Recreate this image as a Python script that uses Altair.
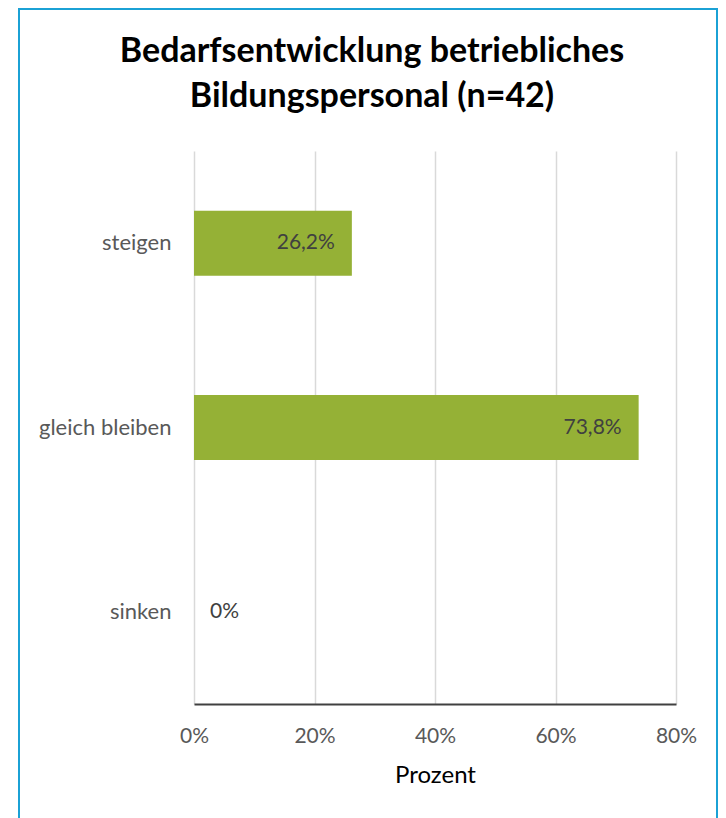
import altair as alt
import pandas as pd

categories = ["steigen", "gleich bleiben", "sinken"]
values = [26.2, 73.8, 0.0]
labels = ["26,2%", "73,8%", "0%"]
title_lines = ["Bedarfsentwicklung betriebliches", "Bildungspersonal (n=42)"]
x_ticks = [0, 20, 40, 60, 80]
x_title = "Prozent"

df = pd.DataFrame({"cat": categories, "val": values, "lab": labels})
FONT = "Lato"

y_enc = alt.Y(
    "cat:N", sort=categories,
    scale=alt.Scale(paddingInner=0.647, paddingOuter=0.3235),
    axis=alt.Axis(title=None, domain=False, ticks=False, labelPadding=23,
                  labelFontSize=22, labelColor="#595959", labelFont=FONT, grid=False),
)
x_enc = alt.X(
    "val:Q", scale=alt.Scale(domain=[0, 80]),
    axis=alt.Axis(values=x_ticks, labelExpr="datum.value + '%'", title=x_title,
                  ticks=False, domain=True, domainColor="#404040", domainWidth=2,
                  grid=True, gridColor="#D9D9D9", gridWidth=1.5,
                  labelFlush=False, labelOverlap=False,
                  labelPadding=21, labelFontSize=21, labelColor="#595959", labelFont=FONT,
                  titleFont=FONT, titleFontSize=24, titleFontWeight="normal",
                  titleColor="#000000", titlePadding=17),
)

base = alt.Chart(df)
bars = base.mark_bar(color="#95B136").encode(x=x_enc, y=y_enc)
lab_pos = base.transform_filter("datum.val > 0").mark_text(
    align="right", baseline="middle", dx=-17, fontSize=21, font=FONT, color="#404040"
).encode(x="val:Q", y=alt.Y("cat:N", sort=categories), text="lab:N")
lab_zero = base.transform_filter("datum.val <= 0").mark_text(
    align="left", baseline="middle", dx=16, fontSize=21, font=FONT, color="#404040"
).encode(x="val:Q", y=alt.Y("cat:N", sort=categories), text="lab:N")

t1 = alt.Chart(alt.Data(values=[{"t": title_lines[0]}])).mark_text(
    align="center", baseline="alphabetic", fontSize=34, fontWeight="bold", font=FONT, color="#000000"
).encode(text="t:N", x=alt.value(178), y=alt.value(-89))
t2 = alt.Chart(alt.Data(values=[{"t": title_lines[1]}])).mark_text(
    align="center", baseline="alphabetic", fontSize=34, fontWeight="bold", font=FONT, color="#000000"
).encode(text="t:N", x=alt.value(178), y=alt.value(-44))

border = alt.Chart(alt.Data(values=[{"b": 1}])).mark_rect(
    filled=False, stroke="#1BA1D5", strokeWidth=2
).encode(x=alt.value(-175), x2=alt.value(523), y=alt.value(-142), y2=alt.value(679))

chart = alt.layer(border, bars, lab_pos, lab_zero, t1, t2).properties(
    width=482, height=553,
    padding={"left": 10, "top": 0, "right": 0, "bottom": 0},
).configure_view(stroke=None)

chart.save("out.html", embed_options={"renderer": "svg", "actions": False})
